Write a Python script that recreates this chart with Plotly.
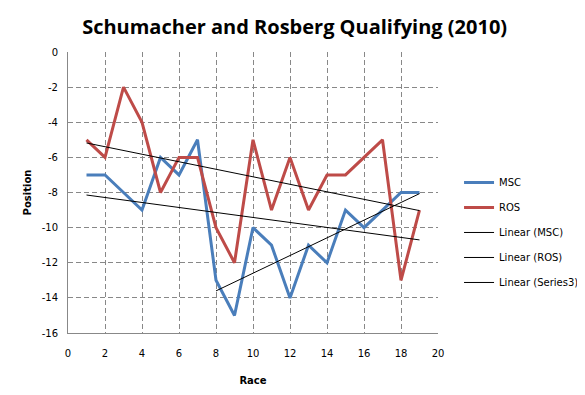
import numpy as np
import plotly.graph_objects as go

races = list(range(1, 20))
msc = [-7, -7, -8, -9, -6, -7, -5, -13, -15, -10, -11, -14, -11, -12, -9, -10, -9, -8, -8]
ros = [-5, -6, -2, -4, -8, -6, -6, -10, -12, -5, -9, -6, -9, -7, -7, -6, -5, -13, -9]
series3_races = list(range(8, 20))
series3 = msc[7:]
y_ticks = [0, -2, -4, -6, -8, -10, -12, -14, -16]
y_ticklabels = ["0", "-2", "-4", "-6", "-8", "-10", "-12", "-14", "-16"]

def trend(xs, ys):
    xs = np.array(xs, dtype=float)
    m, b = np.polyfit(xs, np.array(ys, dtype=float), 1)
    return [xs[0], xs[-1]], [m * xs[0] + b, m * xs[-1] + b]

fig = go.Figure()
fig.add_trace(go.Scatter(x=races, y=msc, mode="lines", name="MSC", legendgroup="a",
                         line=dict(color="#4a7ebb", width=3)))
fig.add_trace(go.Scatter(x=races, y=ros, mode="lines", name="ROS", legendgroup="b",
                         line=dict(color="#be4b48", width=3)))
for i, (nm, (xs, ys)) in enumerate([("Linear (MSC)", trend(races, msc)),
                                    ("Linear (ROS)", trend(races, ros)),
                                    ("Linear (Series3)", trend(series3_races, series3))]):
    fig.add_trace(go.Scatter(x=xs, y=ys, mode="lines", name=nm, legendgroup="t%d" % i,
                             line=dict(color="black", width=1)))

tickfont = dict(family="DejaVu Sans", size=10, color="black")
axis_common = dict(showgrid=True, gridcolor="#888888", griddash="5px,3px", gridwidth=1,
                   zeroline=False, showline=True, linecolor="#888888", linewidth=1,
                   ticks="outside", tickcolor="rgba(0,0,0,0)", tickfont=tickfont,
                   automargin=False)
fig.update_xaxes(range=[0, 20], dtick=2, tick0=0, ticklen=11,
                 title=dict(text="<b>Race</b>", font=dict(family="DejaVu Sans", size=10, color="black"), standoff=18),
                 **axis_common)
fig.update_yaxes(range=[-16, 0], tickmode="array", tickvals=y_ticks, ticktext=y_ticklabels, ticklen=7,
                 title=dict(text="<b>Position</b>", font=dict(family="DejaVu Sans", size=10, color="black"), standoff=8),
                 **axis_common)

fig.update_layout(
    width=585, height=395,
    margin=dict(l=60, r=155, t=44, b=70),
    paper_bgcolor="white", plot_bgcolor="white",
    title=dict(text="<b>Schumacher and Rosberg Qualifying (2010)</b>", x=0.49, xanchor="center",
               y=0.952, yanchor="middle",
               font=dict(family="Open Sans", size=20, color="black")),
    legend=dict(x=0.771, y=0.595, xref="container", yref="container", xanchor="left", yanchor="top",
                font=dict(family="DejaVu Sans", size=10, color="black"),
                tracegroupgap=6, itemwidth=30, bgcolor="rgba(0,0,0,0)"),
    showlegend=True,
)
fig.write_html("out.html")
